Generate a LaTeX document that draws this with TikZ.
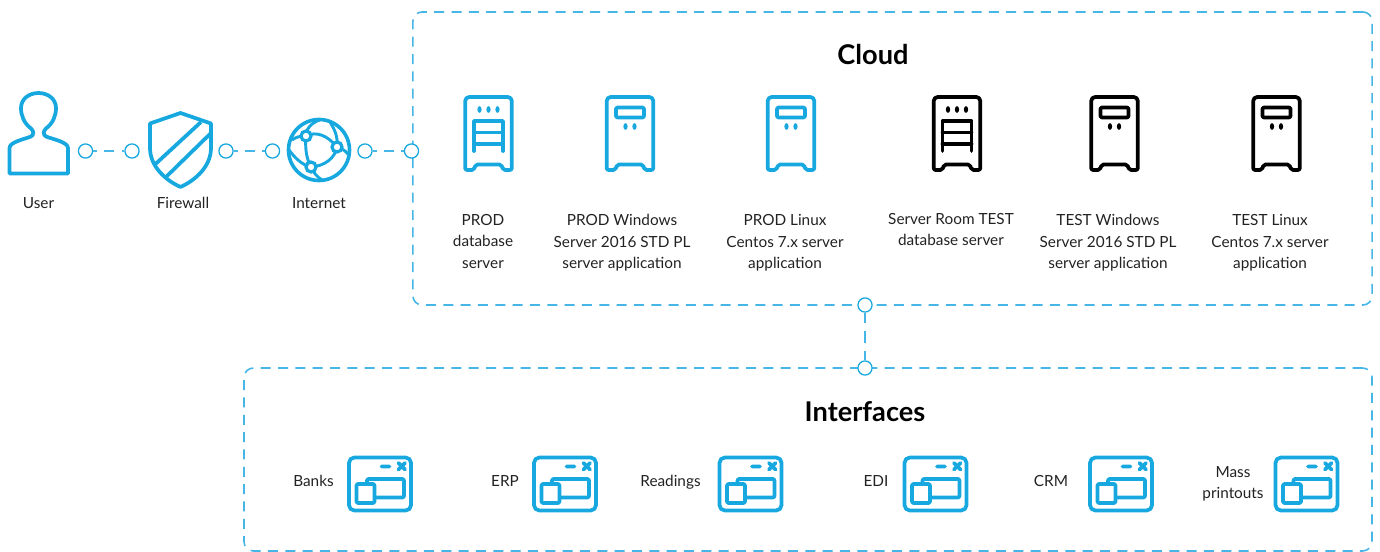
\documentclass[tikz,border=0pt]{standalone}
\usepackage{fontspec}
\setmainfont{Lato}
\definecolor{iconblue}{HTML}{18A8E0}
\definecolor{dashblue}{HTML}{45B6E6}
\definecolor{txt}{HTML}{222222}
\tikzset{
  lbl/.style={font=\fontsize{11.5}{16.1}\selectfont,text=txt,align=center,inner sep=0pt},
  title/.style={font=\fontsize{20.4}{24}\selectfont\bfseries,text=black,inner sep=0pt},
  zone/.style={draw=dashblue,line width=1.2pt,rounded corners=7pt,dash pattern=on 7.5pt off 5.5pt,inner sep=0pt},
  port/.style={circle,draw=iconblue,fill=white,line width=0.95pt,minimum size=10.6pt,inner sep=0pt},
  link/.style={draw=dashblue,line width=1.1pt,dash pattern=on 7.5pt off 5.5pt,dash phase=4.55pt},
  vlink/.style={draw=dashblue,line width=1.1pt,dash pattern=on 9pt off 6pt,dash phase=1.1pt},
  ico/.style={line width=2.8pt,line join=round,line cap=round},
  towerbody/.pic={
    \draw[ico,rounded corners=3pt] (0,0) -- (23.3,0) [rounded corners=1.5pt] -- (23.3,73) -- (14.5,73) -- (13,67.5) -- (-13,67.5) -- (-14.5,73) -- (-23.3,73) [rounded corners=3pt] -- (-23.3,0) -- cycle;
  },
  serverA/.pic={
    \pic {towerbody};
    \fill (-9,12.5) ellipse (2.1 and 3.4) (0,12.5) ellipse (2.1 and 3.4) (9,12.5) ellipse (2.1 and 3.4);
    \draw[ico] (-14.5,54) -- (-14.5,24) -- (14.5,24) -- (14.5,54) (-14.5,35.5) -- (14.5,35.5) (-14.5,47) -- (14.5,47);
  },
  serverB/.pic={
    \pic {towerbody};
    \draw[ico,rounded corners=1pt] (-14,10.5) rectangle (14,20.5);
    \fill (-4.5,29.5) ellipse (2.1 and 3.4) (4.5,29.5) ellipse (2.1 and 3.4);
  },
  appwin/.pic={
    \draw[ico,rounded corners=4pt] (1.5,1.5) rectangle (63.5,54.5);
    \draw[ico] (34,10.5) -- (42,10.5) (51,7) -- (57.5,13.5) (57.5,7) -- (51,13.5);
    \draw[ico,rounded corners=1pt] (19.5,23) rectangle (56.5,41.5);
    \draw[ico,rounded corners=1pt,fill=white] (9,28) rectangle (27,47);
  }
}
\begin{document}
\begin{tikzpicture}[x=0.75pt,y=-0.75pt]
\useasboundingbox (0,0) rectangle (1380,552);
% zones
\node[zone,minimum width=719.5pt,minimum height=219.8pt] (cloud) at (892.5,158.5) {};
\node[zone,minimum width=846pt,minimum height=137.2pt] (ifaces) at (808,459.5) {};
% titles
\node[title] (tcloud) at (873,55) {Cloud};
\node[title] (tiface) at (865,412) {Interfaces};
% user
\draw[iconblue,ico] (9.5,173.5) -- (9.5,148) .. controls (9.5,142) and (25,139) .. (31,136.5) .. controls (34,135) and (34,131) .. (31,128.5) .. controls (24,123) and (21,116) .. (21,108) .. controls (21,99) and (29,93) .. (38.5,93) .. controls (48,93) and (56,99) .. (56,108) .. controls (56,116) and (53,123) .. (46,128.5) .. controls (43,131) and (43,135) .. (46,136.5) .. controls (52,139) and (68,142) .. (68,148) -- (68,173.5) -- cycle;
% shield
\draw[iconblue,ico] (180.5,113) -- (211,123.5) -- (211,148) .. controls (211,166) and (196,180) .. (180.5,187) .. controls (165,180) and (150,166) .. (150,148) -- (150,123.5) -- cycle;
\draw[iconblue,ico,line cap=butt] (155.5,164) -- (201,122) (166,177) -- (211,133);
% globe
\draw[iconblue,line width=2.7pt] (319,150) circle (30.5);
\begin{scope}[iconblue,line width=2.2pt]
 \draw (306,136) .. controls (316,131) and (327,135) .. (337,147);
 \draw (337,147) .. controls (335,158) and (325,166) .. (311,167);
 \draw (306,136) .. controls (305,147) and (306,158) .. (311,167);
 \draw (306,136) .. controls (305,130) and (312,122) .. (320,120);
 \draw (337,147) .. controls (338,137) and (335,130) .. (330,122);
 \draw (337,147) .. controls (344,149) and (346,152) .. (349,155);
 \draw (311,167) .. controls (313,172) and (317,177) .. (322,180);
 \draw (311,167) .. controls (302,165) and (295,158) .. (289,150);
 \draw (306,136) .. controls (300,136) and (296,137) .. (292,140);
 \draw[fill=white,line width=2.4pt] (306,136) circle (5) (337,147) circle (5) (311,167) circle (5);
\end{scope}
% towers
\pic[iconblue] at (488.5,97) {serverA};
\pic[iconblue] at (630,97) {serverB};
\pic[iconblue] at (791,97) {serverB};
\pic[black] at (957,97) {serverA};
\pic[black] at (1114.5,97) {serverB};
\pic[black] at (1276.5,97) {serverB};
% windows
\pic[iconblue] at (347.5,456) {appwin};
\pic[iconblue] at (532.5,456) {appwin};
\pic[iconblue] at (718,456) {appwin};
\pic[iconblue] at (903,456) {appwin};
\pic[iconblue] at (1088.5,456) {appwin};
\pic[iconblue] at (1274,456) {appwin};
% labels
\node[lbl,anchor=base] (luser) at (38.5,208.5) {User};
\node[lbl,anchor=base] (lfw) at (183,208.5) {Firewall};
\node[lbl,anchor=base] (lnet) at (319,208.5) {Internet};
\node[lbl] (s1) at (483,241.5) {PROD\\database\\server};
\node[lbl] (s2) at (622,243) {PROD Windows\\Server 2016 STD PL\\server application};
\node[lbl] (s3) at (785,243) {PROD Linux\\Centos 7.x server\\application};
\node[lbl,anchor=north] (s4) at (951,213) {Server Room TEST\\database server};
\node[lbl] (s5) at (1108,243) {TEST Windows\\Server 2016 STD PL\\server application};
\node[lbl] (s6) at (1270,243) {TEST Linux\\Centos 7.x server\\application};
\node[lbl] (i1) at (313.5,481) {Banks};
\node[lbl] (i2) at (505,481) {ERP};
\node[lbl] (i3) at (670.5,482) {Readings};
\node[lbl] (i4) at (876,481) {EDI};
\node[lbl] (i5) at (1051,481) {CRM};
\node[lbl] (i6) at (1233,484) {Mass\\printouts};
% ports and connectors
\node[port] (p1) at (85.5,151) {};
\node[port] (p2) at (132,151) {};
\node[port] (p3) at (226,151) {};
\node[port] (p4) at (272.5,151) {};
\node[port] (p5) at (365,151) {};
\node[port] (p6) at (411.5,151) {};
\node[port] (p7) at (865,305) {};
\node[port] (p8) at (865,368) {};
\draw[link] (p1) -- (p2);
\draw[link] (p3) -- (p4);
\draw[link] (p5) -- (p6);
\draw[vlink] (p7) -- (p8);
\end{tikzpicture}
\end{document}
